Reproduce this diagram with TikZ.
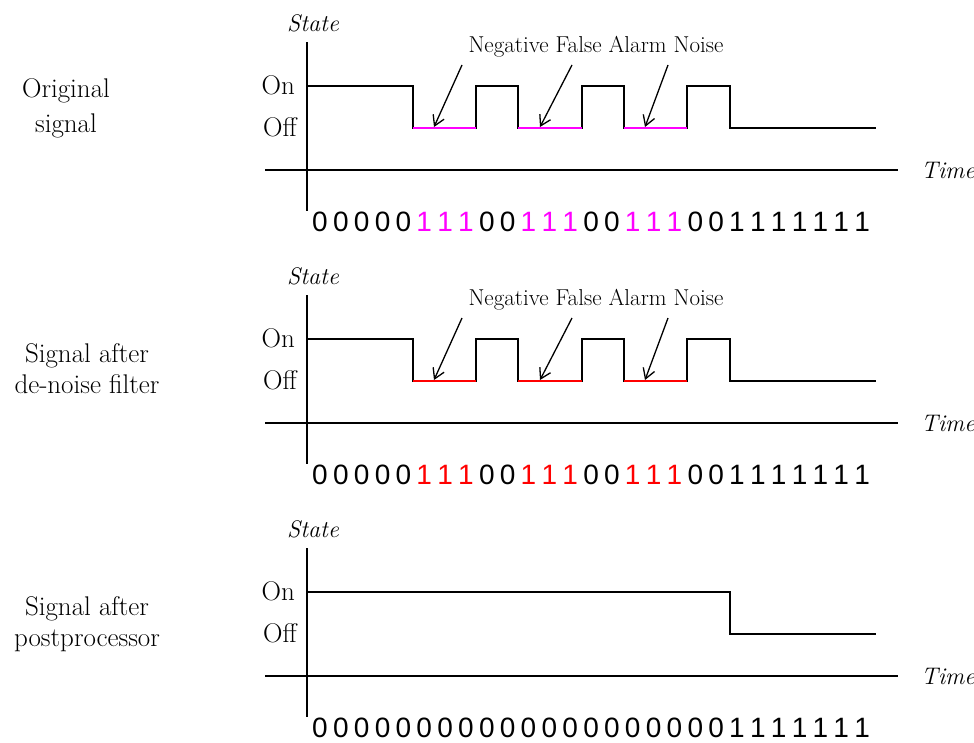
\documentclass[tikz,border=0pt]{standalone}
\usepackage{fontspec}
\newfontfamily\bitfont{Liberation Sans}
\usetikzlibrary{arrows.meta}
\definecolor{noisemag}{RGB}{255,0,255}
\definecolor{noisered}{RGB}{255,0,0}
% one row of bit digits: #1 name prefix, #2 vertical centre, #3 digit/colour list
\newcommand\bitrow[3]{%
  \foreach \d/\c [count=\i from 0] in {#3}
    \node[bit,text=\c] (#1-\i) at ({320+20.85*\i},#2) {\d};}
\begin{document}
\begin{tikzpicture}[x=1pt,y=-1pt,
  axis/.style={line width=1.4pt},
  sig/.style={line width=1.4pt, line join=miter},
  noise/.style={line width=2.8pt},
  lvl/.style={font=\fontsize{27}{27}\selectfont, anchor=base east, inner sep=0pt},
  axlbl/.style={font=\fontsize{24}{24}\selectfont\itshape, inner sep=0pt},
  side/.style={font=\fontsize{27}{31}\selectfont, align=center, inner sep=0pt, anchor=base},
  bit/.style={font=\fontsize{28}{28}\bitfont, inner sep=0pt},
  pointer/.style={line width=1.3pt, -{Straight Barb[length=10pt,width=12pt]}},
  note/.style={font=\fontsize{23}{23}\selectfont, inner sep=0pt, anchor=base}]
\useasboundingbox (0,0) rectangle (974,742);

% ---------- panel 1: original signal ----------
\begin{scope}
  % side labels are anchored on the baseline of their last line
  \node[side, font=\fontsize{27}{35}\selectfont] (lab1) at (66,132) {Original\\signal};
  \node[axlbl, anchor=base] (st1) at (313,31) {State};
  \node[lvl] (on1) at (295,94) {On};
  \node[lvl] (off1) at (297,136) {Off};
  \node[axlbl, anchor=base west] (tm1) at (921,178) {Time};
  \coordinate (v1a) at (307,42);  \coordinate (v1b) at (307,211);
  \coordinate (h1a) at (265,170); \coordinate (h1b) at (898,170);
  \draw[axis] (v1a) -- (v1b);
  \draw[axis] (h1a) -- (h1b);
  \draw[sig] (307,86) -- (413,86) -- (413,128) -- (476,128) -- (476,86)
    -- (518,86) -- (518,128) -- (582,128) -- (582,86) -- (624,86)
    -- (624,128) -- (687,128) -- (687,86) -- (730,86) -- (730,128) -- (876,128);
  \draw[noise, noisemag] (413,128) -- (476,128);
  \draw[noise, noisemag] (518,128) -- (582,128);
  \draw[noise, noisemag] (624,128) -- (687,128);
  \node[note] (nt1) at (596,52) {Negative False Alarm Noise};
  \coordinate (p1a) at (462,65); \coordinate (q1a) at (434,127);
  \coordinate (p1b) at (572,65); \coordinate (q1b) at (540,127);
  \coordinate (p1c) at (668,65); \coordinate (q1c) at (645,127);
  \draw[pointer] (p1a) -- (q1a);
  \draw[pointer] (p1b) -- (q1b);
  \draw[pointer] (p1c) -- (q1c);
  \bitrow{b1}{222}{0/black,0/black,0/black,0/black,0/black,1/noisemag,1/noisemag,1/noisemag,0/black,0/black,1/noisemag,1/noisemag,1/noisemag,0/black,0/black,1/noisemag,1/noisemag,1/noisemag,0/black,0/black,1/black,1/black,1/black,1/black,1/black,1/black,1/black}
\end{scope}

% ---------- panel 2: signal after de-noise filter ----------
\begin{scope}[shift={(0,253)}]
  \node[side] (lab2) at (87,140) {Signal after\\de-noise filter};
  \node[axlbl, anchor=base] (st2) at (313,31) {State};
  \node[lvl] (on2) at (295,94) {On};
  \node[lvl] (off2) at (297,136) {Off};
  \node[axlbl, anchor=base west] (tm2) at (921,178) {Time};
  \coordinate (v2a) at (307,42);  \coordinate (v2b) at (307,211);
  \coordinate (h2a) at (265,170); \coordinate (h2b) at (898,170);
  \draw[axis] (v2a) -- (v2b);
  \draw[axis] (h2a) -- (h2b);
  \draw[sig] (307,86) -- (413,86) -- (413,128) -- (476,128) -- (476,86)
    -- (518,86) -- (518,128) -- (582,128) -- (582,86) -- (624,86)
    -- (624,128) -- (687,128) -- (687,86) -- (730,86) -- (730,128) -- (876,128);
  \draw[noise, noisered] (413,128) -- (476,128);
  \draw[noise, noisered] (518,128) -- (582,128);
  \draw[noise, noisered] (624,128) -- (687,128);
  \node[note] (nt2) at (596,52) {Negative False Alarm Noise};
  \coordinate (p2a) at (462,65); \coordinate (q2a) at (434,127);
  \coordinate (p2b) at (572,65); \coordinate (q2b) at (540,127);
  \coordinate (p2c) at (668,65); \coordinate (q2c) at (645,127);
  \draw[pointer] (p2a) -- (q2a);
  \draw[pointer] (p2b) -- (q2b);
  \draw[pointer] (p2c) -- (q2c);
  \bitrow{b2}{222}{0/black,0/black,0/black,0/black,0/black,1/noisered,1/noisered,1/noisered,0/black,0/black,1/noisered,1/noisered,1/noisered,0/black,0/black,1/noisered,1/noisered,1/noisered,0/black,0/black,1/black,1/black,1/black,1/black,1/black,1/black,1/black}
\end{scope}

% ---------- panel 3: signal after postprocessor ----------
\begin{scope}[shift={(0,506)}]
  \node[side] (lab3) at (87,140) {Signal after\\postprocessor};
  \node[axlbl, anchor=base] (st3) at (313,31) {State};
  \node[lvl] (on3) at (295,94) {On};
  \node[lvl] (off3) at (297,136) {Off};
  \node[axlbl, anchor=base west] (tm3) at (921,178) {Time};
  \coordinate (v3a) at (307,42);  \coordinate (v3b) at (307,211);
  \coordinate (h3a) at (265,170); \coordinate (h3b) at (898,170);
  \draw[axis] (v3a) -- (v3b);
  \draw[axis] (h3a) -- (h3b);
  \draw[sig] (307,86) -- (730,86) -- (730,128) -- (876,128);
  \bitrow{b3}{222}{0/black,0/black,0/black,0/black,0/black,0/black,0/black,0/black,0/black,0/black,0/black,0/black,0/black,0/black,0/black,0/black,0/black,0/black,0/black,0/black,1/black,1/black,1/black,1/black,1/black,1/black,1/black}
\end{scope}
\end{tikzpicture}
\end{document}
